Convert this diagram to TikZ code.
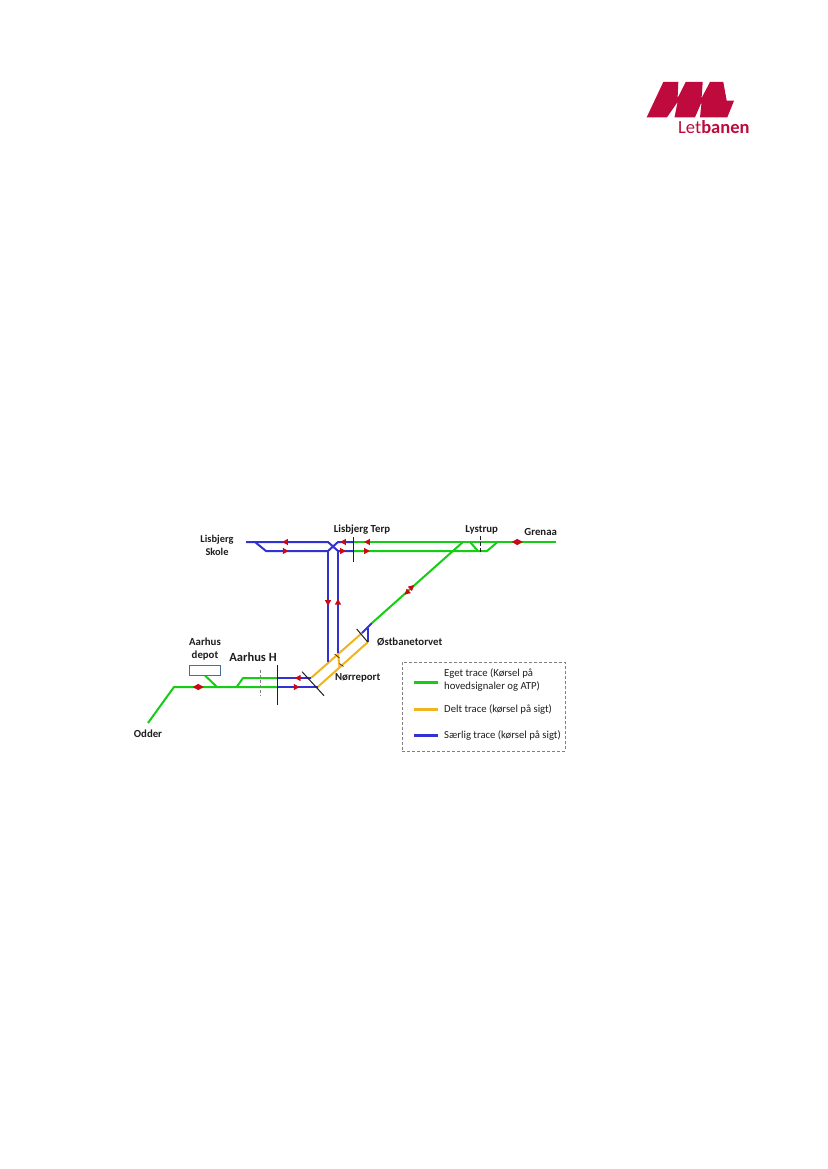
\documentclass[tikz,border=0pt]{standalone}
\usepackage{fontspec}
\setmainfont{Carlito}
\usetikzlibrary{arrows.meta}
\definecolor{grn}{RGB}{20,205,20}
\definecolor{blu}{RGB}{50,50,210}
\definecolor{org}{RGB}{240,180,30}
\definecolor{rd}{RGB}{200,10,20}
\definecolor{crim}{RGB}{190,10,60}
\definecolor{ink}{RGB}{30,30,30}
\tikzset{
 grtrack/.style={grn,line width=2pt,line join=round},
 bltrack/.style={blu,line width=2pt,line join=round},
 ortrack/.style={org,line width=2pt,line join=round},
 tick/.style={ink,line width=1pt},
 lab/.style={font=\fontsize{10.8}{13}\selectfont\bfseries,text=ink,inner sep=0pt,align=center},
 leg/.style={font=\fontsize{10.7}{13}\selectfont,text=ink,inner sep=0pt,anchor=west,align=left},
 legline/.style={line width=3pt,line join=round},
 dir/.pic={\fill[rd] (2.8,0) -- (-2.8,-3.1) -- (-2.8,3.1) -- cycle;},
}
\begin{document}
\begin{tikzpicture}[x=1pt,y=-1pt]
\useasboundingbox[fill=white] (0,0) rectangle (827,1169);
% logo
\fill[crim] (663.3,82) -- (678.3,82) -- (677.6,98) -- (685.7,82) -- (702.7,82) -- (701.6,98) -- (710,82) -- (723.3,82) -- (726.7,100.7) -- (734,100.7) -- (727.3,117.3) -- (700,117.3) -- (701.6,102) -- (695,117.3) -- (674.5,117.3) -- (677.6,102) -- (667,117.3) -- (646.7,117.3) -- cycle;
\node[inner sep=0pt,text=crim,anchor=base west,font=\fontsize{18.5}{20}\selectfont] (logotext) at (678,134) {Let\textbf{banen}};
% coordinates
\coordinate (sk0) at (246,542);
\coordinate (sk1) at (255,542);
\coordinate (sk2) at (266,551);
\coordinate (xtl) at (328,542);
\coordinate (xbl) at (328,551);
\coordinate (xtr) at (338,542);
\coordinate (xbr) at (338,551);
\coordinate (tpt) at (353,542);
\coordinate (tpb) at (353,551);
\coordinate (gr) at (556,542);
\coordinate (ly1) at (463,542);
\coordinate (ly2) at (453,551);
\coordinate (ly3) at (470,542);
\coordinate (ly4) at (478,551);
\coordinate (ly5) at (487,551);
\coordinate (ly6) at (497.5,542);
\coordinate (dg) at (372,623);
\coordinate (os1) at (362,633);
\coordinate (os2) at (368,628);
\coordinate (os3) at (368,642);
\coordinate (no1) at (311,678);
\coordinate (no2) at (317.7,687);
\coordinate (v1) at (328,662);
\coordinate (v2) at (338,653);
\coordinate (v3) at (339.5,667);
\coordinate (ah1) at (243,678);
\coordinate (ah2) at (236.7,687);
\coordinate (ah3) at (277,678);
\coordinate (ah4) at (277,687);
\coordinate (od1) at (148,723);
\coordinate (od2) at (174,687);
\coordinate (dp1) at (205,675.5);
\coordinate (dp2) at (217,687);
% tracks
\draw[grtrack] (tpt) -- (ly1) -- (gr);
\draw[grtrack] (tpb) -- (ly5) -- (ly6);
\draw[grtrack] (ly1) -- (dg);
\draw[grtrack] (ly3) -- (ly4);
\draw[grtrack] (od1) -- (od2) -- (ah4);
\draw[grtrack] (dp1) -- (dp2);
\draw[grtrack] (ah2) -- (ah1) -- (ah3);
\draw[ortrack] (no1) -- (os1);
\draw[ortrack] (no2) -- (os3);
\draw[ortrack] (v2) -- (v3);
\draw[bltrack] (sk0) -- (xtl) -- (xbr) -- (tpb);
\draw[bltrack] (sk1) -- (sk2) -- (xbl) -- (xtr) -- (tpt);
\draw[bltrack] (xbl) -- (v1);
\draw[bltrack] (xbr) -- (v2);
\draw[bltrack] (dg) -- (os1);
\draw[bltrack] (os2) -- (os3);
\draw[bltrack] (ah3) -- (no1);
\draw[bltrack] (ah4) -- (no2);
% ticks
\draw[tick] (353,537) -- (353,562);
\draw[tick,dash pattern=on 4pt off 2pt] (480,536) -- (480,554);
\draw[tick] (277,665) -- (277,705);
\draw[gray,line width=1pt,dash pattern=on 3pt off 2pt] (260,670) -- (260,696);
\draw[tick] (302,671.7) -- (324,695.7);
\draw[tick] (356.7,629) -- (367.7,642);
\draw[tick,line width=0.6pt] (334.5,654) -- (339.5,658);
\draw[tick,line width=0.6pt] (339.5,663.5) -- (343.5,666.5);
% depot
\node[draw={rgb,255:red,70;green,110;blue,160},line width=1pt,fill=white,minimum width=31pt,minimum height=10pt,inner sep=0pt] (depot) at (204.5,670) {};
% arrows
\pic at (285,542) [rotate=180] {dir};
\pic at (285.7,551) {dir};
\pic at (328,603) [rotate=-90] {dir};
\pic at (338,601.7) [rotate=90] {dir};
\pic at (343,542) [rotate=180] {dir};
\pic at (343,551) {dir};
\pic at (367,542) [rotate=180] {dir};
\pic at (367,551) {dir};
\pic at (514.5,542) [rotate=180] {dir};
\pic at (520,542) {dir};
\pic at (406.7,592.7) [rotate=222] {dir};
\pic at (412,587) [rotate=42] {dir};
\pic at (297.7,678) [rotate=180] {dir};
\pic at (296.7,687) {dir};
\pic at (195.5,687) [rotate=180] {dir};
\pic at (201,687) {dir};
% labels
\node[lab,font=\fontsize{10.4}{13}\selectfont\bfseries] (lskole) at (217,545.5) {Lisbjerg\\Skole};
\node[lab] (lterp) at (362,530) {Lisbjerg Terp};
\node[lab] (lystrup) at (481.7,530) {Lystrup};
\node[lab] (grenaa) at (540.7,532) {Grenaa};
\node[lab,anchor=west] (ost) at (377,642) {Østbanetorvet};
\node[lab] (nor) at (357.7,678) {Nørreport};
\node[lab] (depl) at (205,649.5) {Aarhus\\depot};
\node[lab,font=\fontsize{12.5}{14}\selectfont\bfseries] (ahl) at (253,657) {Aarhus H};
\node[lab] (odder) at (148,734) {Odder};
% legend
\node[draw=gray,line width=0.6pt,densely dashed,minimum width=163pt,minimum height=89pt,inner sep=0pt] (legbox) at (483.5,706.5) {};
\coordinate (a1) at (414,682); \coordinate (b1) at (438,682);
\coordinate (a2) at (414,709); \coordinate (b2) at (438,709);
\coordinate (a3) at (414,735.5); \coordinate (b3) at (438,735.5);
\draw[legline,grn] (a1) -- (b1);
\draw[legline,org] (a2) -- (b2);
\draw[legline,blu] (a3) -- (b3);
\node[leg] (t1) at (444,680.5) {Eget trace (Kørsel på\\hovedsignaler og ATP)};
\node[leg] (t2) at (444,709) {Delt trace (kørsel på sigt)};
\node[leg] (t3) at (444,735.5) {Særlig trace (kørsel på sigt)};
\end{tikzpicture}
\end{document}
